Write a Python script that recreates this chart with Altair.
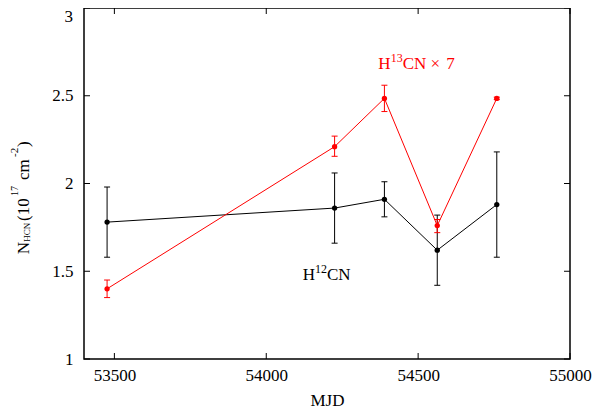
import altair as alt
import pandas as pd

# ---- data ----
mjd = [53476, 54225, 54389, 54563, 54759]

h12cn = [1.78, 1.86, 1.91, 1.62, 1.88]
h12cn_lo = [1.58, 1.66, 1.81, 1.42, 1.58]
h12cn_hi = [1.98, 2.06, 2.01, 1.82, 2.18]

h13cn_x7 = [1.40, 2.21, 2.485, 1.76, 2.485]
h13cn_x7_lo = [1.35, 2.155, 2.41, 1.72, 2.478]
h13cn_x7_hi = [1.45, 2.27, 2.56, 1.795, 2.492]

x_ticks = [53500, 54000, 54500, 55000]
y_ticks = [1, 1.5, 2, 2.5, 3]

W, H = 486, 351
FONT = "Liberation Serif"
FS = 17
TICK = 6

XSCALE = alt.Scale(domain=[53400, 55000], nice=False, zero=False)
YSCALE = alt.Scale(domain=[1, 3], nice=False, zero=False)

X_AXIS = alt.Axis(values=x_ticks, format="d", title="MJD", domain=False, ticks=False,
                  grid=False, labelFont=FONT, labelFontSize=FS, labelColor="black",
                  labelPadding=8, labelFlush=False, titleFont=FONT, titleFontSize=FS,
                  titleFontWeight="normal", titleColor="black", titleY=46.5,
                  titleBaseline="alphabetic")
# the top label "3" is drawn separately so that it stays inside the page
Y_AXIS = alt.Axis(values=y_ticks, format="~g", title="", domain=False, ticks=False,
                  grid=False, labelFont=FONT, labelFontSize=FS, labelColor="black",
                  labelPadding=11, labelFlush=False,
                  labelExpr="datum.value == 3 ? '' : datum.label")


def xenc():
    return alt.X("mjd:Q", scale=XSCALE, axis=X_AXIS)


def yenc(field):
    return alt.Y(field + ":Q", scale=YSCALE, axis=Y_AXIS)


def series(vals, lo, hi, color):
    d = pd.DataFrame({"mjd": mjd, "n": vals, "lo": lo, "hi": hi})
    c = alt.Chart(d)
    line = c.mark_line(color=color, strokeWidth=1).encode(x=xenc(), y=yenc("n"))
    bar = c.mark_rule(color=color, strokeWidth=1).encode(x=xenc(), y=yenc("lo"), y2="hi:Q")
    cap_lo = c.mark_tick(color=color, orient="horizontal", size=6, thickness=1,
                         opacity=1).encode(x=xenc(), y=yenc("lo"))
    cap_hi = c.mark_tick(color=color, orient="horizontal", size=6, thickness=1,
                         opacity=1).encode(x=xenc(), y=yenc("hi"))
    pts = c.mark_point(filled=True, color=color, size=28, opacity=1,
                       shape="circle").encode(x=xenc(), y=yenc("n"))
    return [line, bar, cap_lo, cap_hi, pts]


# inward ticks on all four sides
xt = alt.Chart(pd.DataFrame({"mjd": x_ticks}))
yt = alt.Chart(pd.DataFrame({"n": y_ticks}))
frame_ticks = [
    xt.mark_rule(color="black", strokeWidth=1).encode(x=xenc(), y=alt.value(H), y2=alt.value(H - TICK)),
    xt.mark_rule(color="black", strokeWidth=1).encode(x=xenc(), y=alt.value(0), y2=alt.value(TICK)),
    yt.mark_rule(color="black", strokeWidth=1).encode(y=yenc("n"), x=alt.value(0), x2=alt.value(TICK)),
    yt.mark_rule(color="black", strokeWidth=1).encode(y=yenc("n"), x=alt.value(W), x2=alt.value(W - TICK)),
]

one = alt.Data(values=[{"k": 1}])


def label(text, xval, yval, color, size=FS, dx=0, dy=0):
    return alt.Chart(one).mark_text(font=FONT, fontSize=size, color=color, align="left",
                                    baseline="alphabetic", dx=dx, dy=dy).encode(
        x=alt.X(datum=xval, scale=XSCALE, axis=X_AXIS),
        y=alt.Y(datum=yval, scale=YSCALE, axis=Y_AXIS),
        text=alt.value(text))


def ypiece(text, px, py, size):
    return alt.Chart(one).mark_text(font=FONT, fontSize=size, color="black", align="left",
                                    baseline="alphabetic", angle=270).encode(
        x=alt.value(px), y=alt.value(py), text=alt.value(text))


top_label = alt.Chart(one).mark_text(font=FONT, fontSize=FS, color="black", align="right",
                                     baseline="top", dy=1).encode(
    x=alt.value(-11), y=alt.Y(datum=3, scale=YSCALE, axis=Y_AXIS), text=alt.value("3"))

annotations = [
    label("H", 54369, 2.652, "red"),
    label("13", 54369, 2.652, "red", size=12, dx=12.3, dy=-7),
    label("CN ×", 54369, 2.652, "red", dx=24.3),
    label("7", 54369, 2.652, "red", dx=68),
    label("H", 54120, 1.449, "black"),
    label("12", 54120, 1.449, "black", size=12, dx=12.3, dy=-7),
    label("CN", 54120, 1.449, "black", dx=24.3),
]

ytitle = [
    ypiece("N", -55, 246.3, FS),
    ypiece("HCN", -54, 233.7, 9),
    ypiece("(10", -55, 213, FS),
    ypiece("17", -66.3, 188, 10),
    ypiece("cm", -55, 172, FS),
    ypiece("-2", -66.3, 149, 11),
    ypiece(")", -55, 139, FS),
]

layers = (frame_ticks
          + series(h12cn, h12cn_lo, h12cn_hi, "black")
          + series(h13cn_x7, h13cn_x7_lo, h13cn_x7_hi, "red")
          + annotations + ytitle + [top_label])

chart = alt.layer(*layers).properties(
    width=W, height=H,
    autosize=alt.AutoSizeParams(type="none"),
    padding={"left": 76, "top": 0, "right": 22, "bottom": 51},
    background="white",
).configure_view(
    stroke="black", strokeWidth=1.5
).configure_axis(
    labelFont=FONT, labelFontSize=FS, labelColor="black",
    titleFont=FONT, titleFontSize=FS, titleColor="black"
).configure_text(font=FONT)

chart.save("out.html", embed_options={"renderer": "svg", "actions": False})
